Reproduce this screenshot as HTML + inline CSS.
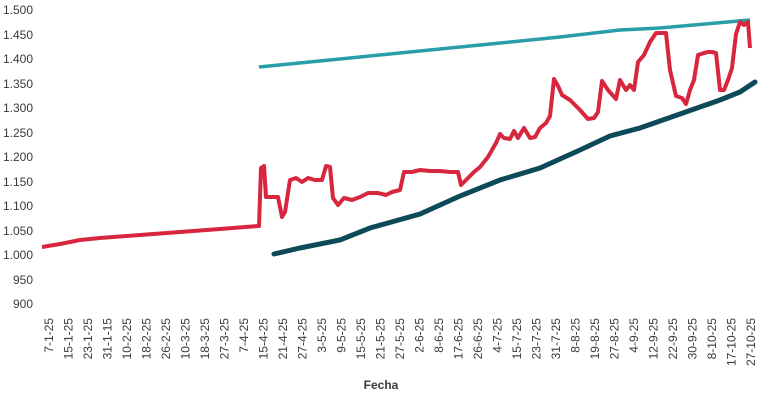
<!DOCTYPE html><html><head><style>body{margin:0;background:#fff}svg{display:block}text{font-family:"Liberation Sans",sans-serif;fill:#3a3a3a;font-size:12px}</style></head><body>
<svg width="762" height="400" viewBox="0 0 762 400">
<g text-anchor="end" style="font-size:13px">
<text x="33" y="14">1.500</text><text x="33" y="39">1.450</text><text x="33" y="63">1.400</text><text x="33" y="88">1.350</text><text x="33" y="112">1.300</text><text x="33" y="137">1.250</text><text x="33" y="161">1.200</text><text x="33" y="186">1.150</text><text x="33" y="210">1.100</text><text x="33" y="235">1.050</text><text x="33" y="259">1.000</text><text x="33" y="284">950</text><text x="33" y="308">900</text>
</g>
<g id="xl" text-anchor="end"></g>
<text x="381" y="389" text-anchor="middle" style="font-weight:bold">Fecha</text>
<polyline fill="none" stroke="#2a9ea8" stroke-width="3.5" points="259,67 350,58 450,48 560,37 620,30 660,28 750,20"/>
<polyline fill="none" stroke="#0d4a57" stroke-width="5" stroke-linecap="round" points="274,254 300,248 340,240 370,228 420,214 460,196 500,180 540,168 580,150 610,136 640,128 680,114 720,100 740,92 755,82"/>
<polyline fill="none" stroke="#d7263d" stroke-width="4" stroke-linejoin="round" points="42,247 60,244 80,240 100,238 140,235 180,232 220,229 258,226 259,226 261,168 264,166 266,197 278,197 282,217 285,212 290,180 296,178 302,182 308,178 315,180 322,180 326,166 330,167 333,198 338,205 344,198 352,200 360,197 368,193 378,193 386,195 392,192 400,190 404,172 412,172 420,170 430,171 440,171 450,172 458,172 461,185 468,178 474,172 480,167 484,162 488,157 492,150 496,143 500,134 504,138 510,139 514,131 518,138 524,128 530,138 535,137 540,128 546,123 550,116 554,79 558,86 562,95 570,100 580,110 588,119 594,118 598,112 602,81 608,90 616,99 620,80 626,90 630,85 634,90 638,62 644,55 650,42 656,33 660,33 666,33 670,70 676,96 682,98 686,104 690,90 694,80 698,55 704,53 708,52 712,52 716,53 720,90 724,90 728,80 732,68 736,34 740,22 744,25 748,22 750,48"/>
</svg>
<script>
var L="7-1-25 15-1-25 23-1-25 31-1-15 10-2-25 18-2-25 26-2-25 10-3-25 18-3-25 27-3-25 7-4-25 15-4-25 21-4-25 27-4-25 3-5-25 9-5-25 15-5-25 21-5-25 27-5-25 2-6-25 8-6-25 17-6-25 26-6-25 4-7-25 15-7-25 23-7-25 31-7-25 8-8-25 19-8-25 27-8-25 4-9-25 12-9-25 22-9-25 30-9-25 8-10-25 17-10-25 27-10-25".split(" ");
var g=document.getElementById("xl"),s="";
L.forEach(function(t,i){var x=49+i*19.5+4;s+='<text transform="translate('+x+',318) rotate(-90)">'+t+'</text>';});
g.innerHTML=s;
</script>
</body></html>
